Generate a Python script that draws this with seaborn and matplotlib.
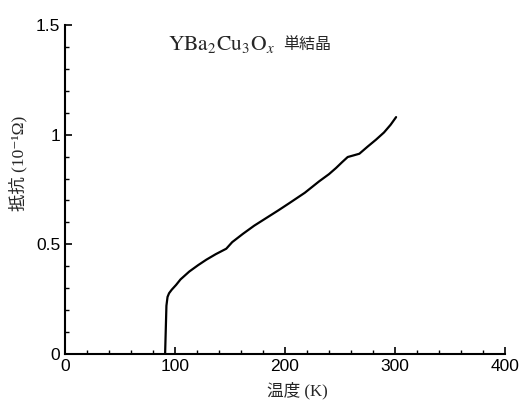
import seaborn as sns
import matplotlib.pyplot as plt
import pandas as pd

# 温度 (K) と抵抗 (10^-1 Ω) の読み取り値
temp = [91, 91.6, 92.2, 93.2, 94.6, 97, 101, 105, 113, 121, 128.5, 137, 146.6,
        152, 161.8, 172, 183, 194, 204, 218, 231, 240, 246.4, 252, 257, 262,
        267.6, 275, 282.7, 290, 296, 301]
resist = [0, 0.11, 0.22, 0.26, 0.277, 0.293, 0.315, 0.34, 0.376, 0.405, 0.43,
          0.455, 0.48, 0.51, 0.548, 0.585, 0.62, 0.655, 0.688, 0.735, 0.787,
          0.82, 0.848, 0.875, 0.898, 0.905, 0.913, 0.945, 0.977, 1.01, 1.045,
          1.08]
x_ticks = [0, 100, 200, 300, 400]
y_ticks = [0, 0.5, 1, 1.5]
y_ticklabels = ["0", "0.5", "1", "1.5"]

df = pd.DataFrame({"temp": temp, "resist": resist})

sns.set_style("ticks")
plt.rcParams["font.family"] = ["Liberation Sans", "Noto Sans CJK JP"]
plt.rcParams["mathtext.fontset"] = "stix"

fig = plt.figure(figsize=(5.29, 4.03), dpi=100)
ax = fig.add_axes([0.1229, 0.1216, 0.8317, 0.8164])

sns.lineplot(data=df, x="temp", y="resist", sort=False, estimator=None,
             color="black", linewidth=1.6, ax=ax)

ax.set_xlim(0, 400)
ax.set_ylim(0, 1.5)
ax.set_xticks(x_ticks)
ax.set_xticks(range(0, 401, 20), minor=True)
ax.set_yticks(y_ticks)
ax.set_yticklabels(y_ticklabels)
ax.set_yticks([i / 10 for i in range(16)], minor=True)

ax.tick_params(which="both", direction="in", colors="black", labelsize=12.5)
ax.tick_params(which="major", length=5, width=1.2)
ax.tick_params(which="minor", length=3, width=1)
for s in ["top", "right"]:
    ax.spines[s].set_visible(False)
for s in ["left", "bottom"]:
    ax.spines[s].set_linewidth(1.5)
    ax.spines[s].set_color("black")

lab_font = ["Liberation Serif", "Noto Sans CJK JP", "DejaVu Serif"]
ax.set_xlabel("温度 (K)", fontsize=12, family=lab_font)
ax.xaxis.set_label_coords(0.527, -0.085)
ax.set_ylabel("抵抗 (10⁻¹Ω)", fontsize=12.5, family=lab_font)
ax.yaxis.set_label_coords(-0.085, 0.58)

ax.text(94, 1.41, r"$\mathrm{YBa_2Cu_3O}_x$", fontsize=15.5,
        va="center", ha="left")
ax.text(198, 1.41, "単結晶", fontsize=11.5, family="Noto Sans CJK JP",
        va="center", ha="left")

fig.savefig("out.png", dpi=100)
